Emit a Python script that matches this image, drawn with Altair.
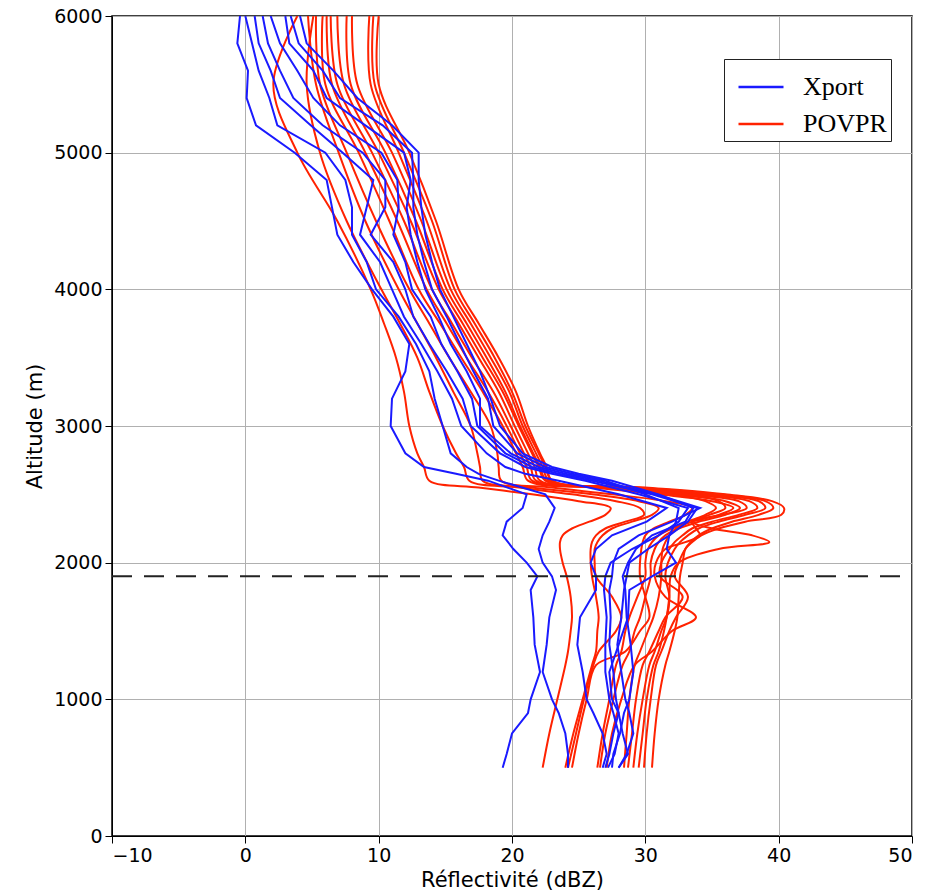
import altair as alt
import pandas as pd

# ---------------- data ----------------
ALT_B = [500, 600, 750, 900, 1000, 1200, 1400, 1600, 1800, 1900, 2000, 2100, 2200, 2300,
         2400, 2500, 2600, 2650, 2700, 2800, 3000, 3200, 3400, 3600, 3800, 4000, 4200, 4400,
         4600, 4800, 5000, 5200, 5400, 5600, 5800, 6000]

B1 = [19.3, 19.6, 20.0, 21.2, 21.4, 22.1, 21.7, 21.6, 21.4, 21.9, 21.1, 20.1, 19.3, 19.6,
      20.8, 21.1, 18.2, 15.8, 13.4, 12.0, 10.9, 11.0, 12.0, 12.3, 11.1, 9.5, 8.1, 6.9,
      6.5, 6.1, 3.7, 0.8, 0.1, 0.2, -0.6, -0.4]
B2 = [24.2, 24.2, 24.0, 23.5, 23.0, 22.3, 22.6, 22.8, 23.3, 23.0, 22.3, 22.0, 22.3, 22.8,
      23.2, 22.5, 19.0, 17.5, 16.6, 15.4, 14.8, 14.2, 13.8, 12.8, 11.5, 9.8, 9.1, 8.0,
      8.0, 7.5, 6.0, 2.4, 1.8, 1.0, 0.5, 0.0]
B3 = [26.8, 27.1, 26.8, 26.1, 25.6, 25.3, 24.9, 25.1, 26.3, 26.3, 25.9, 26.3, 27.5, 30.1,
      31.6, 28.0, 23.5, 21.0, 19.5, 18.1, 16.2, 15.5, 14.4, 13.2, 11.9, 11.0, 10.1, 8.6,
      9.1, 9.6, 7.3, 4.9, 2.6, 1.9, 1.0, 0.7]
B4 = [27.2, 27.7, 28.0, 27.6, 27.3, 27.0, 27.0, 27.1, 26.9, 27.0, 27.4, 29.0, 31.0, 32.5,
      33.2, 29.5, 25.5, 23.0, 21.0, 19.1, 16.9, 16.3, 15.1, 13.8, 12.6, 12.0, 11.1, 9.4,
      10.5, 10.5, 8.8, 5.8, 3.6, 2.6, 1.7, 1.3]
B5 = [28.0, 28.6, 29.1, 28.8, 28.5, 28.2, 27.9, 28.2, 28.4, 28.6, 28.8, 30.2, 31.8, 33.2,
      33.9, 30.5, 26.0, 23.5, 21.5, 19.5, 17.4, 17.0, 15.9, 14.7, 13.9, 12.5, 12.0, 11.1,
      11.5, 11.4, 10.2, 7.1, 5.1, 3.9, 2.6, 1.9]
B6 = [27.0, 27.3, 27.6, 28.0, 27.8, 27.6, 27.3, 27.4, 27.3, 27.5, 27.6, 28.0, 29.5, 32.0,
      34.1, 30.8, 26.5, 24.0, 22.0, 19.9, 17.6, 17.6, 16.6, 15.4, 14.5, 13.5, 12.9, 12.4,
      12.1, 12.4, 11.9, 9.0, 6.1, 5.1, 3.3, 3.0]
B7 = [28.0, 28.7, 28.3, 28.0, 27.5, 27.3, 28.0, 28.7, 28.8, 30.5, 32.3, 31.6, 31.8, 32.3,
      32.5, 30.0, 27.0, 24.5, 22.5, 20.4, 18.6, 18.2, 17.1, 16.1, 15.1, 14.0, 13.4, 12.9,
      12.6, 12.6, 12.5, 10.3, 7.1, 5.8, 4.0, 3.4]
B8 = [27.5, 27.6, 28.1, 28.4, 28.8, 29.1, 28.9, 28.6, 28.5, 28.3, 28.7, 29.3, 30.5, 33.0,
      33.6, 31.0, 27.5, 25.0, 23.0, 20.8, 19.1, 18.4, 17.6, 16.6, 15.6, 14.6, 14.0, 13.5,
      13.2, 13.0, 13.0, 11.0, 8.4, 6.6, 4.6, 4.1]

ALT_R = [500, 750, 1000, 1250, 1350, 1500, 1600, 1750, 1900, 2000, 2100, 2150, 2200, 2250,
         2300, 2350, 2400, 2450, 2500, 2550, 2600, 2700, 2800, 3000, 3250, 3500, 3750, 4000,
         4500, 5000, 5500, 6000]

R1 = [22.3, 22.8, 23.4, 24.0, 24.2, 24.4, 24.5, 24.4, 24.1, 23.8, 23.6, 23.6, 23.8, 24.5,
      25.8, 27.0, 27.4, 25.0, 21.5, 17.5, 13.8, 13.4, 12.9, 12.3, 11.9, 11.3, 10.4, 9.4,
      6.9, 3.9, 2.1, 3.9]
R2 = [24.0, 24.6, 25.3, 26.0, 26.3, 26.4, 26.5, 26.3, 26.0, 25.9, 25.9, 26.0, 26.3, 27.0,
      28.5, 29.9, 29.6, 27.8, 24.5, 20.5, 16.8, 16.4, 15.8, 14.8, 13.8, 12.9, 11.6, 10.2,
      7.6, 5.6, 4.6, 5.1]
R3 = [24.2, 24.8, 25.4, 26.1, 26.5, 27.8, 28.2, 27.5, 26.3, 26.2, 26.2, 26.4, 26.8, 27.5,
      29.0, 30.5, 31.0, 29.5, 26.0, 21.5, 17.8, 17.6, 17.4, 16.9, 15.6, 14.3, 12.9, 11.5,
      9.0, 7.0, 5.3, 4.7]
R4 = [24.5, 25.0, 25.6, 26.3, 28.5, 29.6, 30.3, 30.0, 29.6, 29.6, 29.7, 29.8, 30.0, 30.6,
      31.8, 33.0, 33.5, 31.5, 27.5, 23.0, 19.2, 19.0, 18.9, 18.4, 16.9, 15.3, 13.8, 12.3,
      9.8, 7.6, 5.6, 5.3]
R5 = [26.4, 26.8, 27.3, 27.8, 28.2, 28.5, 28.8, 29.4, 30.0, 30.0, 30.2, 30.5, 31.0, 32.0,
      33.5, 35.5, 36.6, 35.0, 31.0, 26.0, 21.2, 20.8, 20.3, 19.3, 17.8, 16.2, 14.6, 13.0,
      10.8, 8.5, 6.0, 5.8]
R6 = [26.6, 27.0, 27.6, 28.3, 28.8, 29.2, 29.6, 30.0, 30.4, 30.4, 30.7, 31.0, 31.5, 32.5,
      34.0, 36.0, 37.1, 36.0, 32.0, 27.0, 21.5, 21.1, 20.6, 19.6, 18.2, 16.6, 15.1, 13.6,
      11.4, 9.0, 6.5, 6.1]
R7 = [27.1, 27.5, 28.2, 29.2, 30.5, 32.0, 33.8, 31.5, 30.7, 30.8, 31.5, 33.0, 34.1, 33.8,
      33.5, 35.8, 37.6, 37.0, 33.0, 27.5, 21.8, 21.4, 20.9, 19.9, 18.6, 17.0, 15.5, 14.0,
      11.9, 9.5, 6.9, 6.4]
R8 = [28.7, 29.0, 29.3, 29.8, 30.3, 31.0, 31.5, 32.8, 31.1, 31.2, 31.8, 32.2, 32.8, 33.5,
      35.0, 37.0, 38.4, 37.8, 34.0, 28.5, 22.1, 21.7, 21.2, 20.2, 19.0, 17.5, 16.0, 14.5,
      12.4, 10.0, 7.4, 6.9]
R9 = [29.1, 29.4, 29.8, 30.3, 30.7, 31.2, 31.6, 31.8, 31.5, 31.7, 32.2, 32.6, 33.2, 34.0,
      35.5, 37.5, 39.0, 38.5, 34.5, 29.0, 22.5, 22.0, 21.5, 20.5, 19.3, 17.8, 16.3, 14.8,
      12.8, 10.5, 7.9, 7.6]
R10 = [29.5, 29.8, 30.1, 30.6, 31.0, 31.4, 31.6, 31.8, 31.9, 32.5, 35.5, 39.3, 38.0, 35.0,
       33.5, 34.8, 36.0, 35.5, 33.0, 28.0, 22.6, 22.1, 21.6, 20.6, 19.5, 18.1, 16.6, 15.1,
       13.2, 11.0, 8.4, 8.0]
R11 = [29.9, 30.1, 30.4, 30.8, 31.2, 31.8, 32.3, 33.2, 32.2, 32.5, 33.0, 33.5, 34.2, 35.5,
       37.5, 40.2, 40.4, 39.5, 36.0, 30.0, 22.8, 22.3, 21.8, 20.8, 19.8, 18.4, 16.9, 15.4,
       13.6, 11.5, 9.4, 9.3]
R12 = [30.5, 30.7, 31.0, 31.5, 31.8, 32.2, 32.4, 32.5, 32.6, 32.8, 33.0, 33.4, 34.0, 35.0,
       36.5, 38.5, 39.6, 39.0, 35.5, 29.5, 23.0, 22.5, 22.0, 21.0, 20.0, 18.7, 17.2, 15.7,
       14.0, 11.9, 9.7, 9.6]
R13 = [28.4, 28.6, 28.8, 29.2, 29.6, 30.2, 30.6, 31.0, 31.2, 31.2, 31.3, 31.5, 31.8, 32.3,
       33.2, 34.5, 35.3, 34.5, 32.0, 27.5, 23.0, 22.6, 22.1, 21.2, 20.3, 19.0, 17.5, 16.0,
       14.3, 12.3, 10.0, 10.0]

MELT_LEVEL = [1900]
X_TICKS = [-10, 0, 10, 20, 30, 40, 50]
Y_TICKS = [0, 1000, 2000, 3000, 4000, 5000, 6000]

# ---------------- tables ----------------
rows_b = []
for i, prof in enumerate([B1, B2, B3, B4, B5, B6, B7, B8]):
    for a, v in zip(ALT_B, prof):
        rows_b.append({"instrument": "Xport", "profile": f"X{i}", "alt": a, "dbz": v})
rows_r = []
for i, prof in enumerate([R1, R2, R3, R4, R5, R6, R7, R8, R9, R10, R11, R12, R13]):
    for a, v in zip(ALT_R, prof):
        rows_r.append({"instrument": "POVPR", "profile": f"P{i}", "alt": a, "dbz": v})
df_b = pd.DataFrame(rows_b)
df_r = pd.DataFrame(rows_r)
df_melt = pd.DataFrame({"alt": MELT_LEVEL})

xenc = alt.X("dbz:Q", scale=alt.Scale(domain=[-10, 50], nice=False, zero=False),
             axis=alt.Axis(values=X_TICKS, title="Réflectivité (dBZ)", format="d",
                           titlePadding=4))
yenc = alt.Y("alt:Q", scale=alt.Scale(domain=[0, 6000], nice=False),
             axis=alt.Axis(values=Y_TICKS, title="Altitude (m)", format="d",
                           titlePadding=8))
color = alt.Color("instrument:N",
                  scale=alt.Scale(domain=["Xport", "POVPR"], range=["#1a1aff", "#ff2200"]),
                  legend=alt.Legend(title=None, orient="none", legendX=612, legendY=43,
                                    symbolType="stroke", symbolSize=2025,
                                    symbolStrokeWidth=2.5, labelFont="Liberation Serif",
                                    labelFontSize=26, labelColor="black",
                                    strokeColor="#222", fillColor="white", padding=4,
                                    symbolOffset=9, rowPadding=-4, labelOffset=18,
                                    cornerRadius=0))

red = alt.Chart(df_r).mark_line(interpolate="catmull-rom", strokeWidth=2, clip=True).encode(
    x=xenc, y=yenc, color=color, detail="profile:N", order="alt:Q")
blue = alt.Chart(df_b).mark_line(interpolate="linear", strokeWidth=2, clip=True).encode(
    x=xenc, y=yenc, color=color, detail="profile:N", order="alt:Q")
rule = alt.Chart(df_melt).mark_rule(strokeDash=[20, 12], color="#222", strokeWidth=2).encode(
    y=yenc, x=alt.value(0), x2=alt.value(800))

chart = alt.layer(red, blue, rule).properties(
    width=800, height=820,
    autosize=alt.AutoSizeParams(type="none"),
    padding={"left": 112, "top": 16, "right": 28, "bottom": 57},
    background="white",
).configure_view(stroke="black", strokeWidth=1.5).configure_axis(
    labelFont="DejaVu Sans", labelFontSize=19, titleFont="DejaVu Sans", titleFontSize=21,
    titleFontWeight="normal", labelColor="black", titleColor="black",
    domainColor="black", tickColor="black", tickSize=7, labelPadding=3,
    gridColor="#b0b0b0", gridWidth=1,
)

chart.save("out.html", embed_options={"renderer": "svg", "actions": False})
